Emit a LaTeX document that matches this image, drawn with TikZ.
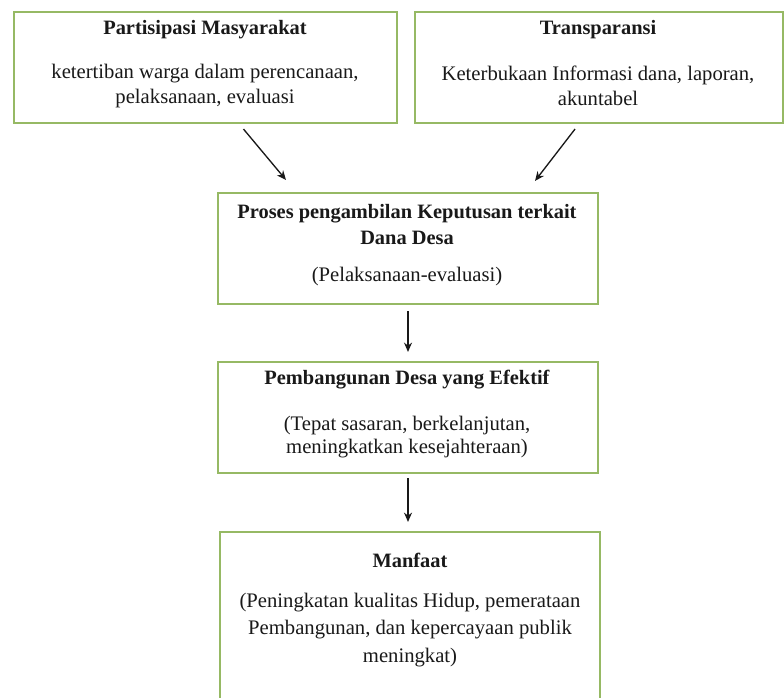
\documentclass[tikz,border=0pt]{standalone}
\usepackage{fontspec}
\setmainfont{Liberation Serif}
\usetikzlibrary{arrows.meta,fit,calc}
\definecolor{boxgreen}{RGB}{150,185,100}
\definecolor{txt}{RGB}{25,25,25}
\begin{document}
\begin{tikzpicture}[x=0.75pt,y=-0.75pt,
  box/.style={draw=boxgreen, line width=1.6pt, fill=white, inner sep=0pt},
  ttl/.style={font=\fontsize{15.3}{19.5}\selectfont\bfseries, text=txt, inner sep=0pt, align=center},
  bod/.style={font=\fontsize{15.5}{18.75}\selectfont, text=txt, inner sep=0pt, align=center},
  arr/.style={-{Stealth[length=7pt,width=6pt]}, line width=1pt, draw=txt}]
\useasboundingbox (0,0) rectangle (784,697);
\clip (0,0) rectangle (784,697);
\fill[white] (0,0) rectangle (784,697);
% boxes
\node[box, fit={(14,12) (397,123)}] (b1) {};
\node[box, fit={(415,12) (783,123)}] (b2) {};
\node[box, fit={(218,193) (598,304)}] (b3) {};
\node[box, fit={(218,362) (598,473)}] (b4) {};
\node[box, fit={(220,532) (600,730)}] (b5) {};
% texts
\node[ttl] (t1) at (205,30) {Partisipasi Masyarakat};
\node[bod] (d1) at (205,86) {ketertiban warga dalam perencanaan,\\ pelaksanaan, evaluasi};
\node[ttl] (t2) at (598,30) {Transparansi};
\node[bod] (d2) at (598,86) {Keterbukaan Informasi dana, laporan,\\ akuntabel};
\node[ttl] (t3) at (407,225) {Proses pengambilan Keputusan terkait\\ Dana Desa};
\node[bod] (d3) at (407,277) {(Pelaksanaan-evaluasi)};
\node[ttl] (t4) at (407,380) {Pembangunan Desa yang Efektif};
\node[bod, font=\fontsize{15.5}{17.25}\selectfont] (d4) at (407,437) {(Tepat sasaran, berkelanjutan,\\ meningkatkan kesejahteraan)};
\node[ttl] (t5) at (410,560) {Manfaat};
\node[bod, font=\fontsize{15.5}{20.6}\selectfont] (d5) at (410,630) {(Peningkatan kualitas Hidup, pemerataan\\ Pembangunan, dan kepercayaan publik\\ meningkat)};
% arrows
\draw[arr] ($(b1.south)+(38,5)$) -- ($(b3.north)+(-122,-12)$);
\draw[arr] ($(b2.south)+(-24,5)$) -- ($(b3.north)+(127,-11)$);
\draw[arr] ($(b3.south)+(0,6)$) -- ($(b4.north)+(0,-9)$);
\draw[arr] ($(b4.south)+(0,4)$) -- ($(b4.south |- b5.north)+(0,-9)$);
\end{tikzpicture}
\end{document}
